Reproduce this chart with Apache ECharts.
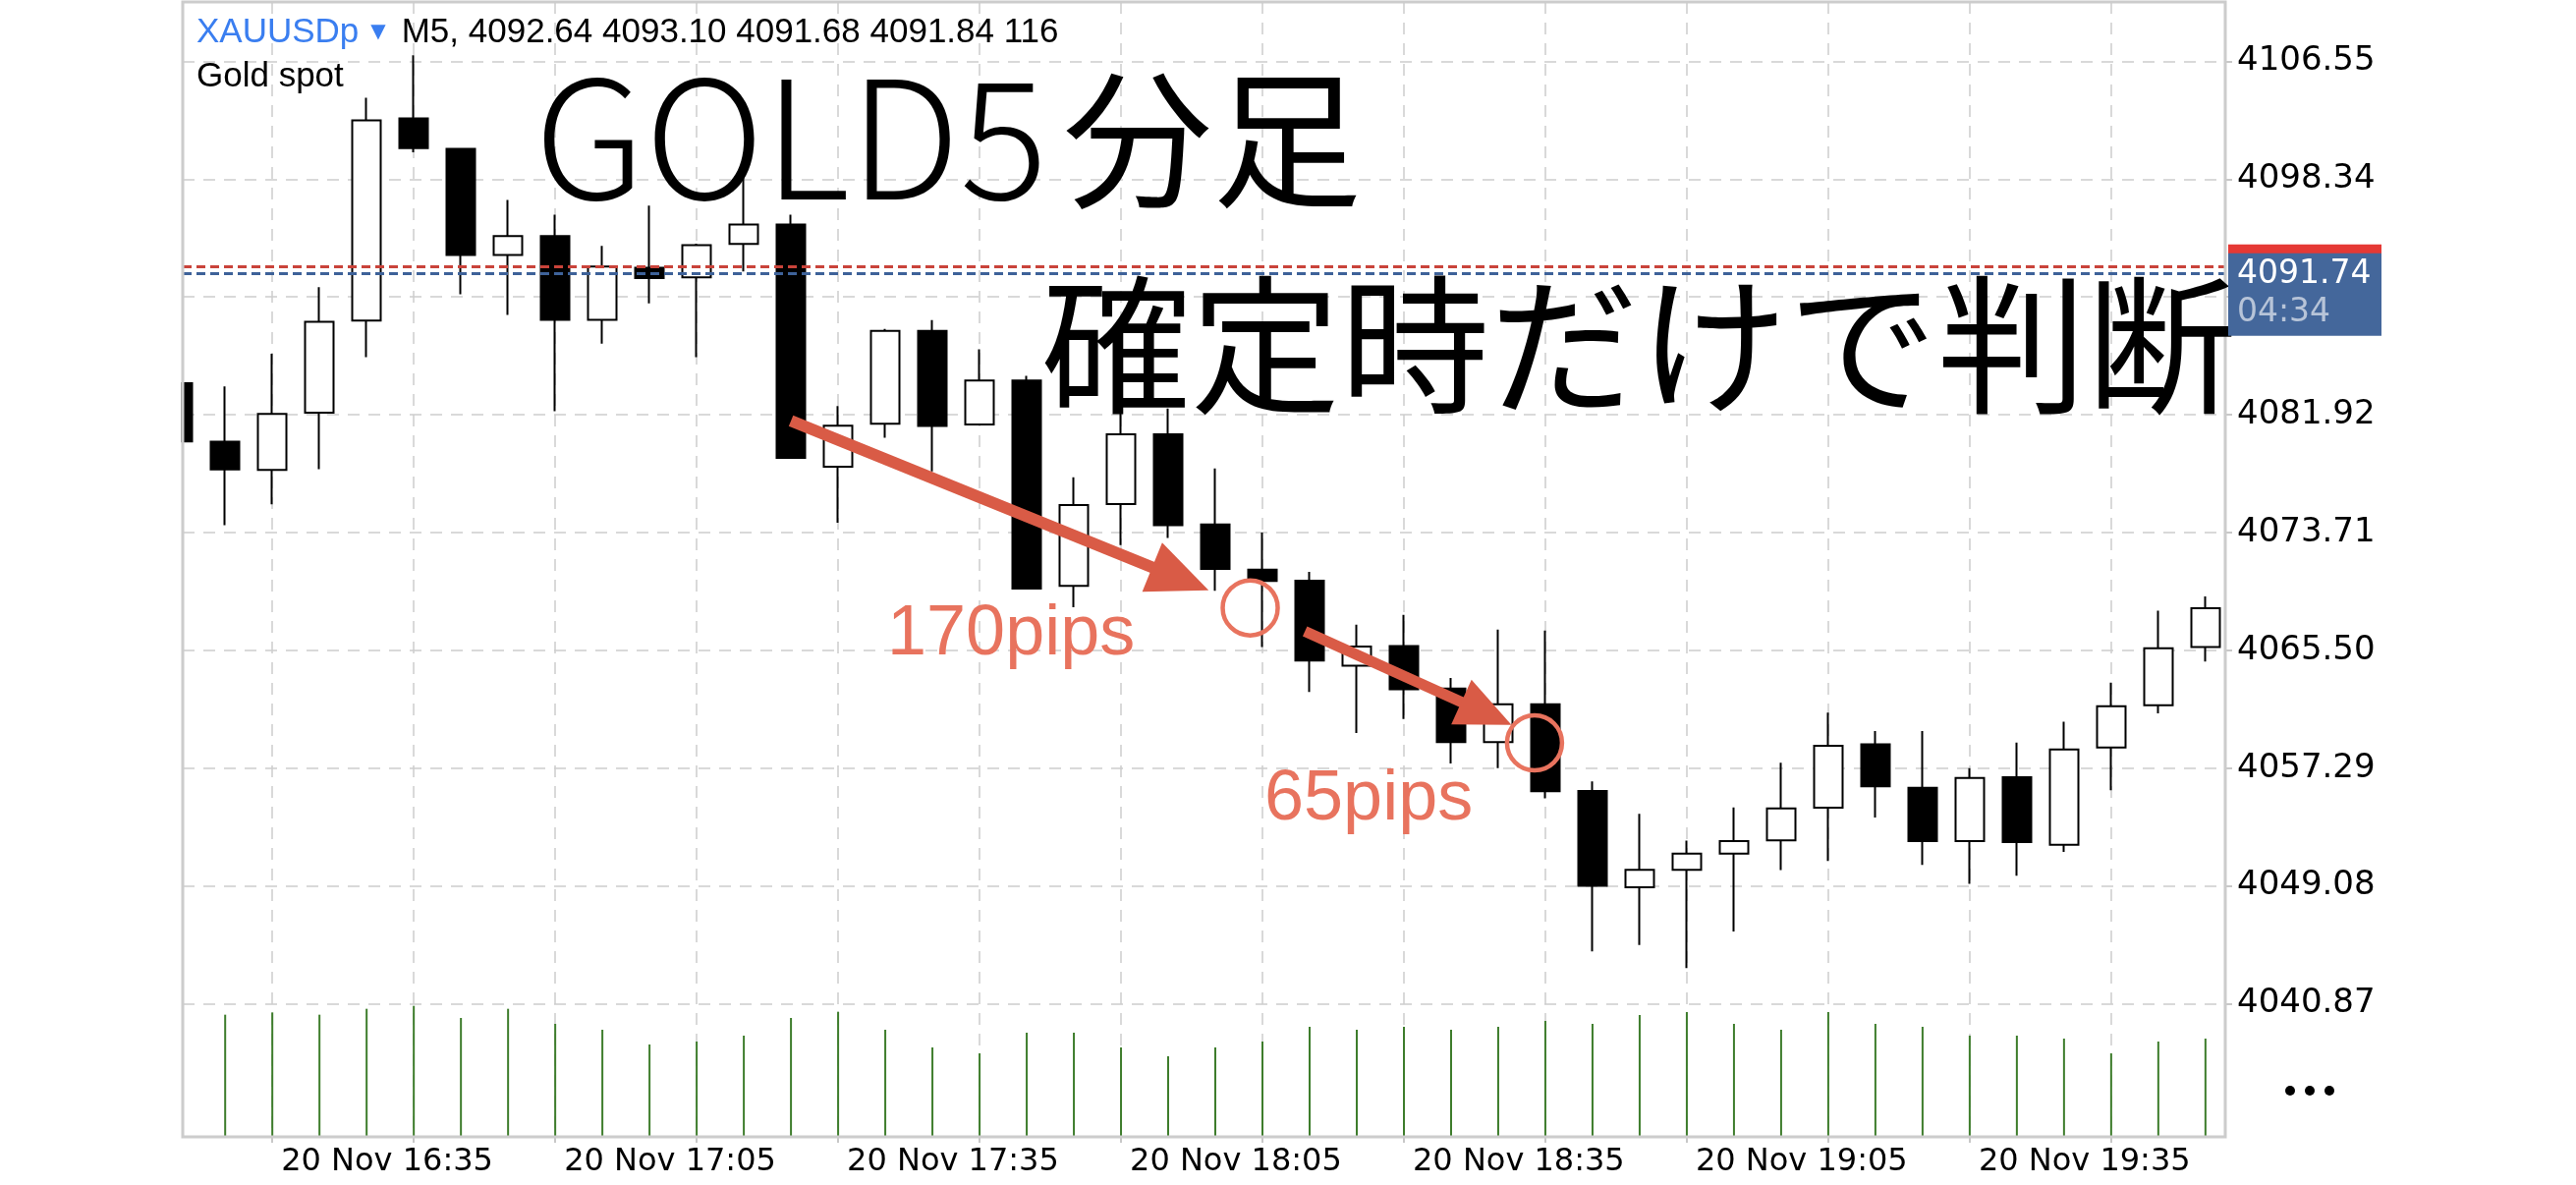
<!DOCTYPE html>
<html><head><meta charset="utf-8">
<script src="https://cdn.jsdelivr.net/npm/echarts@6/dist/echarts.min.js"></script>
<style>html,body{margin:0;padding:0;background:#fff}#c{width:2622px;height:1206px}</style>
</head><body><div id="c"></div>
<script>
// ---- data (XAUUSDp M5, 20 Nov) ----
const dateLabel = '20 Nov';
const times = ['16:25','16:30','16:35','16:40','16:45','16:50','16:55','17:00','17:05','17:10','17:15','17:20','17:25','17:30','17:35','17:40','17:45','17:50','17:55','18:00','18:05','18:10','18:15','18:20','18:25','18:30','18:35','18:40','18:45','18:50','18:55','19:00','19:05','19:10','19:15','19:20','19:25','19:30','19:35','19:40','19:45','19:50','19:55','20:00'];
const opens  = [4084.12,4080.05,4078.08,4082.06,4088.48,4102.57,4100.45,4093.06,4094.37,4088.53,4092.17,4091.49,4093.82,4095.18,4078.29,4081.30,4087.76,4081.24,4084.31,4069.99,4075.69,4080.55,4074.28,4071.13,4070.36,4064.42,4065.79,4062.84,4059.10,4061.74,4055.70,4048.98,4050.20,4051.33,4052.26,4054.53,4058.95,4055.92,4052.21,4056.66,4051.95,4058.73,4061.67,4065.73];
const closes = [4080.06,4078.10,4081.98,4088.40,4102.44,4100.50,4093.06,4094.37,4088.53,4092.25,4091.44,4093.74,4095.18,4078.92,4081.15,4087.76,4081.14,4084.31,4069.81,4075.63,4080.55,4074.23,4071.18,4070.33,4064.79,4065.77,4062.79,4059.10,4061.74,4055.68,4049.08,4050.20,4051.33,4052.21,4054.48,4058.85,4056.02,4052.21,4056.61,4052.13,4058.59,4061.60,4065.64,4068.44];
const lows   = [4080.06,4074.23,4075.67,4078.13,4085.94,4100.21,4090.31,4088.87,4082.17,4086.88,4089.68,4085.94,4091.91,4078.90,4074.40,4080.32,4077.97,4081.17,4069.75,4068.51,4072.84,4073.34,4069.65,4065.73,4062.59,4059.73,4060.71,4057.61,4057.29,4055.19,4044.51,4044.97,4043.36,4045.90,4050.18,4050.81,4053.84,4050.55,4049.23,4049.79,4051.45,4055.74,4061.10,4064.72];
const highs  = [4084.12,4083.90,4086.17,4090.81,4104.01,4106.97,4100.45,4096.89,4095.86,4093.69,4096.49,4093.85,4098.60,4095.86,4082.53,4087.90,4088.51,4086.48,4084.63,4077.56,4082.15,4082.35,4078.18,4073.71,4070.97,4067.28,4067.97,4063.57,4066.94,4066.87,4056.36,4054.11,4052.23,4054.55,4057.66,4061.15,4059.88,4059.88,4057.29,4059.07,4060.53,4063.24,4068.26,4069.26];
const volumes = [360,373,380,373,391,400,363,391,345,327,282,291,309,363,382,327,273,255,318,318,273,246,273,291,336,327,336,327,336,354,345,372,381,345,327,381,345,336,309,309,300,255,291,300];
const priceTicks = [4040.87,4049.08,4057.29,4065.50,4073.71,4081.92,4090.13,4098.34,4106.55];
const gridCandles = [2,5,8,11,14,17,20,23,26,29,32,35,38,41];
const labelCandles = [2,8,14,20,26,32,38];
const bidPrice = 4091.74, askPrice = 4092.26;
const headerSymbol = 'XAUUSDp';
const headerInfo = 'M5, 4092.64 4093.10 4091.68 4091.84 116';
const subTitle = 'Gold spot';
// annotation anchors (candle index, price)
const arrow1 = [[13, 4081.5], [21.26, 4070.49]];
const arrow2 = [[23.9, 4066.82], [27.75, 4061.10]];
const circles = [[22.74, 4068.46], [28.77, 4059.05]];

const candleData = opens.map((o, i) => [i, o, closes[i], lows[i], highs[i]]);
const volData = volumes.map((v, i) => [i, v]);

const chart = echarts.init(document.getElementById('c'), null, {renderer: 'canvas'});
const GRID_L = 186, GRID_R = 357, GRID_T = 2, GRID_B = 49;
const ACC = '#D95B46', ACC2 = '#E8735E';

chart.setOption({
  animation: false,
  backgroundColor: '#fff',
  grid: [
    {left: GRID_L, right: GRID_R, top: GRID_T, bottom: GRID_B, show: false},
    {left: GRID_L, right: GRID_R, top: 1022, bottom: GRID_B, show: false}
  ],
  xAxis: [
    {type: 'value', gridIndex: 0, min: 0.1, max: 43.42,
     axisLine: {show: false},
     axisTick: {show: true, customValues: gridCandles, length: 6, lineStyle: {color: '#c8c8c8', width: 2}},
     splitLine: {show: true, lineStyle: {color: '#cdcdcd', type: [12, 9], width: 1.5}},
     axisLabel: {customValues: labelCandles, formatter: v => dateLabel + ' ' + times[Math.round(v)],
       align: 'left', padding: [0, 0, 0, 9], margin: 10,
       fontFamily: 'DejaVu Sans', fontSize: 32, color: '#000'}},
    {type: 'value', gridIndex: 1, min: 0.1, max: 43.42, show: false, splitLine: {show: false}}
  ],
  yAxis: [
    {type: 'value', gridIndex: 0, position: 'right', min: 4031.59, max: 4110.69,
     axisLine: {show: false},
     axisTick: {show: true, customValues: priceTicks, length: 7, lineStyle: {color: '#c8c8c8', width: 2}},
     splitLine: {show: true, lineStyle: {color: '#cdcdcd', type: [12, 9], width: 1.5}},
     axisLabel: {customValues: priceTicks, formatter: v => v.toFixed(2), margin: 12,
       fontFamily: 'DejaVu Sans', fontSize: 34, color: '#000'}},
    {type: 'value', gridIndex: 1, min: 0, max: 405, show: false, splitLine: {show: false}}
  ],
  series: [
    {type: 'bar', xAxisIndex: 1, yAxisIndex: 1, data: volData, barWidth: 2,
     itemStyle: {color: '#3E7D2C'}, silent: true},
    {type: 'candlestick', xAxisIndex: 0, yAxisIndex: 0, data: candleData, barWidth: 30, clip: false,
     itemStyle: {color: '#ffffff', color0: '#000000', borderColor: '#000000', borderColor0: '#000000', borderWidth: 2},
     silent: true,
     markLine: {
       silent: true, symbol: ['none', 'none'], label: {show: false}, animation: false,
       data: [
         {yAxis: askPrice, lineStyle: {color: '#C9433A', type: [9, 5], width: 3}},
         {yAxis: bidPrice, lineStyle: {color: '#3E6299', type: [9, 5], width: 3}},
         [{coord: arrow1[0], symbol: 'none', lineStyle: {color: ACC, width: 12, type: 'solid'}},
          {coord: arrow1[1], symbol: 'triangle', symbolSize: [54, 62]}],
         [{coord: arrow2[0], symbol: 'none', lineStyle: {color: ACC, width: 11, type: 'solid'}},
          {coord: arrow2[1], symbol: 'triangle', symbolSize: [50, 56]}]
       ]
     },
     markPoint: {
       silent: true, symbol: 'circle', symbolSize: 56, label: {show: false}, animation: false,
       itemStyle: {color: 'rgba(0,0,0,0)', borderColor: ACC2, borderWidth: 4.5},
       data: circles.map(c => ({coord: c}))
     }}
  ]
});

const bidY = chart.convertToPixel({yAxisIndex: 0}, bidPrice);
const BOX_X = 2268, BOX_W = 156;

chart.setOption({
  graphic: [
    {type: 'rect', z: 50, silent: true, shape: {x: 0, y: 0, width: 184.5, height: 1206}, style: {fill: '#fff'}},
    {type: 'rect', z: 60, silent: true, shape: {x: GRID_L, y: GRID_T, width: 2622 - GRID_R - GRID_L, height: 1206 - GRID_B - GRID_T},
     style: {fill: 'none', stroke: '#cccccc', lineWidth: 3}},
    {type: 'text', z: 70, silent: true, x: 200, y: 33,
     style: {text: '{b|' + headerSymbol + '}{t|▼}{k|' + headerInfo + '}', verticalAlign: 'middle', align: 'left',
       fontFamily: 'Liberation Sans', fontSize: 35, fill: '#000',
       rich: {b: {fontFamily: 'Liberation Sans', fontSize: 35, fill: '#3A7EF0', color: '#3A7EF0'},
              t: {fontFamily: 'DejaVu Sans', fontSize: 20, fill: '#3A7EF0', color: '#3A7EF0', padding: [0, 16, 0, 12]},
              k: {fontFamily: 'Liberation Sans', fontSize: 35, fill: '#000', color: '#000'}}}},
    {type: 'text', z: 70, silent: true, x: 200, y: 78,
     style: {text: subTitle, verticalAlign: 'middle', align: 'left', fontFamily: 'Liberation Sans', fontSize: 35, fill: '#000'}},
    {type: 'text', z: 70, silent: true, x: 544, y: 140,
     style: {text: 'GOLD5', verticalAlign: 'middle', align: 'left', fontFamily: 'Noto Sans CJK JP', fontWeight: 300, fontSize: 167, fill: '#000'}},
    {type: 'text', z: 70, silent: true, x: 1082, y: 142,
     style: {text: '分足', verticalAlign: 'middle', align: 'left', fontFamily: 'Noto Sans CJK JP', fontSize: 152, fill: '#000'}},
    {type: 'text', z: 70, silent: true, x: 1060, y: 351,
     style: {text: '確定時だけで判断', verticalAlign: 'middle', align: 'left', fontFamily: 'Noto Sans CJK JP', fontSize: 152, fill: '#000'}},
    {type: 'text', z: 70, silent: true, x: 903, y: 646,
     style: {text: '170pips', verticalAlign: 'middle', align: 'left', fontFamily: 'Liberation Sans', fontSize: 72, fill: ACC2}},
    {type: 'text', z: 70, silent: true, x: 1287, y: 814,
     style: {text: '65pips', verticalAlign: 'middle', align: 'left', fontFamily: 'Liberation Sans', fontSize: 72, fill: ACC2}},
    {type: 'rect', z: 80, silent: true, shape: {x: BOX_X, y: bidY - 30, width: BOX_W, height: 12}, style: {fill: '#E53935'}},
    {type: 'rect', z: 81, silent: true, shape: {x: BOX_X, y: bidY - 21, width: BOX_W, height: 84}, style: {fill: '#44679B'}},
    {type: 'text', z: 82, silent: true, x: 2277, y: bidY + 1,
     style: {text: bidPrice.toFixed(2), verticalAlign: 'middle', align: 'left', fontFamily: 'DejaVu Sans', fontSize: 33, fill: '#ffffff'}},
    {type: 'text', z: 82, silent: true, x: 2277, y: bidY + 40,
     style: {text: '04:34', verticalAlign: 'middle', align: 'left', fontFamily: 'DejaVu Sans', fontSize: 33, fill: '#B7C4D8'}},
    {type: 'circle', z: 70, silent: true, shape: {cx: 2331, cy: 1110, r: 5}, style: {fill: '#000'}},
    {type: 'circle', z: 70, silent: true, shape: {cx: 2351, cy: 1110, r: 5}, style: {fill: '#000'}},
    {type: 'circle', z: 70, silent: true, shape: {cx: 2371, cy: 1110, r: 5}, style: {fill: '#000'}}
  ]
});
</script>
</body></html>
